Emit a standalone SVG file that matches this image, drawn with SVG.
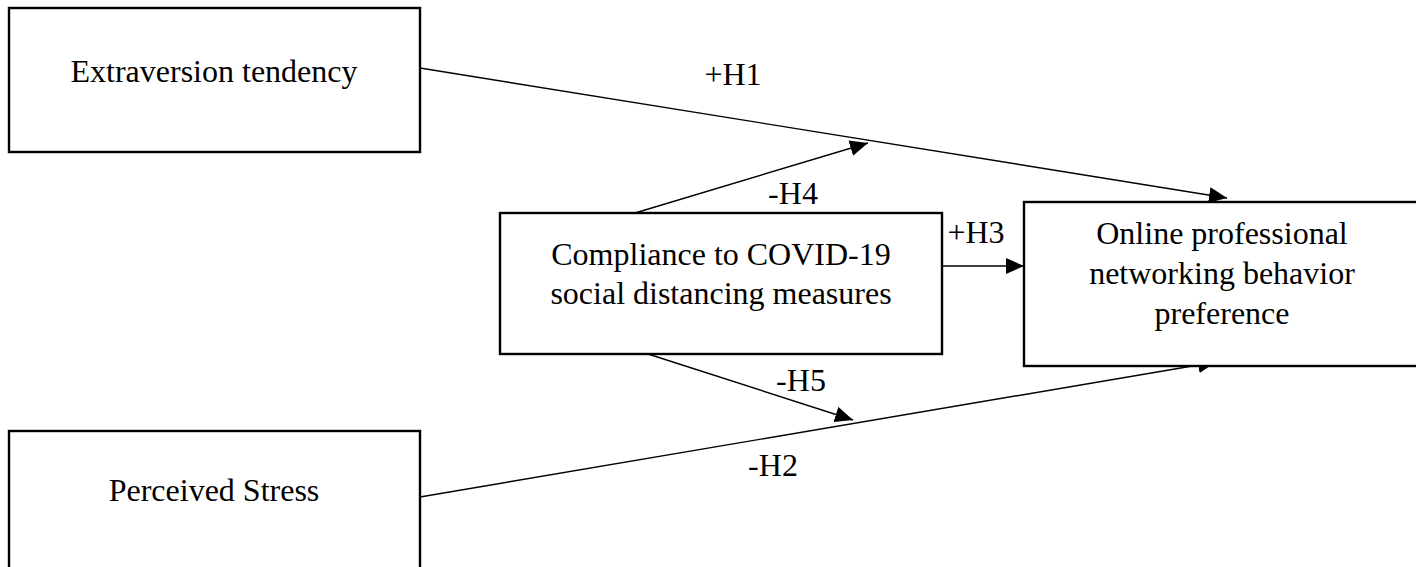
<svg xmlns="http://www.w3.org/2000/svg" width="1416" height="567" viewBox="0 0 1416 567">
<style>
.box{fill:#fff;stroke:#000;stroke-width:2.4}
.t{font-family:"Liberation Serif","Times New Roman",serif;font-size:32px;fill:#000;text-anchor:middle}
.c{stroke:#000;stroke-width:1.4;fill:none;marker-end:url(#ah)}
</style>
<defs>
<marker id="ah" markerUnits="userSpaceOnUse" markerWidth="19" markerHeight="16" refX="18" refY="8" orient="auto">
<path d="M0,0 L18,8 L0,16 Z" fill="#000"/>
</marker>
</defs>
<rect width="1416" height="567" fill="#fff"/>
<g id="connectors">
<line class="c" x1="420" y1="68" x2="1227" y2="198"/>
<line class="c" x1="420" y1="497" x2="1216" y2="362"/>
<line class="c" x1="635" y1="213" x2="868" y2="143"/>
<line class="c" x1="648" y1="354" x2="853" y2="420"/>
<line class="c" x1="942" y1="266" x2="1024" y2="266"/>
<text class="t" x="733" y="85">+H1</text>
<text class="t" x="793" y="204">-H4</text>
<text class="t" x="976" y="243">+H3</text>
<text class="t" x="801" y="391">-H5</text>
<text class="t" x="773" y="476">-H2</text>
</g>
<g id="extraversion">
<rect class="box" x="9" y="8" width="411" height="144"/>
<text class="t" x="214" y="82">Extraversion tendency</text>
</g>
<g id="stress">
<rect class="box" x="9" y="431" width="411" height="150"/>
<text class="t" x="214" y="501">Perceived Stress</text>
</g>
<g id="compliance">
<rect class="box" x="500" y="213" width="442" height="141"/>
<text class="t" x="721" y="265">Compliance to COVID-19</text>
<text class="t" x="721" y="304">social distancing measures</text>
</g>
<g id="online">
<rect class="box" x="1024" y="202" width="410" height="164"/>
<text class="t" x="1222" y="244">Online professional</text>
<text class="t" x="1222" y="284">networking behavior</text>
<text class="t" x="1222" y="324">preference</text>
</g>
</svg>
